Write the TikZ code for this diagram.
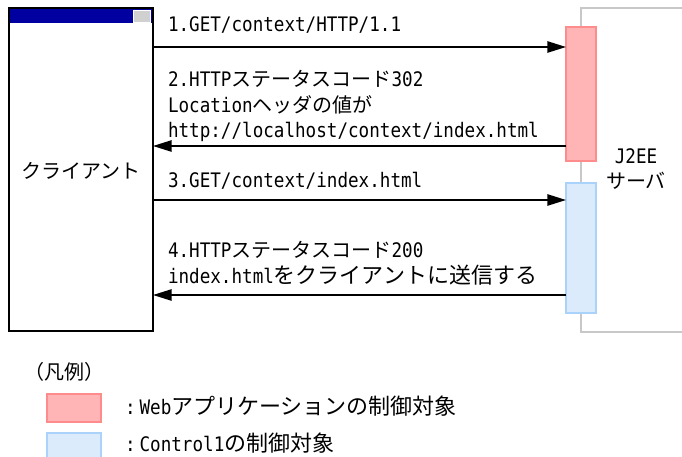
\documentclass[tikz,border=0pt]{standalone}
\usepackage{fontspec}
\setmainfont{Noto Sans CJK JP}
\newfontfamily\lt{DejaVu Sans Mono}[FakeStretch=0.88]
\usetikzlibrary{arrows.meta}
\definecolor{navybar}{RGB}{0,0,160}
\definecolor{btngray}{RGB}{208,208,208}
\definecolor{srvgray}{RGB}{200,200,200}
\definecolor{redfill}{RGB}{255,181,181}
\definecolor{reddraw}{RGB}{255,140,140}
\definecolor{bluefill}{RGB}{220,235,252}
\definecolor{bluedraw}{RGB}{170,210,250}
\tikzset{
  txt/.style={inner sep=0pt, outer sep=0pt, font=\fontsize{15pt}{19pt}\selectfont},
  lbl/.style={txt, anchor=base west},
  msg/.style={line width=1.2pt, -{Triangle[length=14pt,width=8.5pt]}},
  redbar/.style={draw=reddraw, fill=redfill, line width=1pt, inner sep=0pt, outer sep=0pt},
  bluebar/.style={draw=bluedraw, fill=bluefill, line width=1pt, inner sep=0pt, outer sep=0pt},
}
\newcommand{\bigjp}[1]{{\fontsize{16.5pt}{19pt}\selectfont #1}}
\begin{document}
\begin{tikzpicture}[x=0.75pt,y=-0.75pt]
\useasboundingbox (0,0) rectangle (682,457);
% server outline
\draw[srvgray, line width=1.1pt] (700,8) -- (581,8) -- (581,332) -- (700,332);
% client window
\node[draw, line width=1.1pt, minimum width=108pt, minimum height=242.25pt, inner sep=0pt, outer sep=0pt] (client) at (81,169.5) {};
\fill[navybar] (9,8) rectangle (153,23);
\node[fill=btngray, draw=white, line width=0.4pt, minimum width=13pt, minimum height=9pt, inner sep=0pt] (btn) at (141.5,16) {};
\draw[line width=1.1pt] (9,8) rectangle (153,331);
\node[txt] (clientlbl) at (81,171) {クライアント};
% server bars
\node[redbar, minimum width=22.5pt, minimum height=100.5pt] (red) at (581,94) {};
\node[bluebar, minimum width=22.5pt, minimum height=97.5pt] (blue) at (581,248) {};
\node[txt, align=center] (srv) at (636,169) {{\lt J2EE}\\サーバ};
% message rows
\coordinate (y1) at (0,47);
\coordinate (y2) at (0,146);
\coordinate (y3) at (0,200);
\coordinate (y4) at (0,295);
\draw[msg] (client.east |- y1) -- (red.west |- y1);
\draw[msg] (red.west |- y2) -- (client.east |- y2);
\draw[msg] (client.east |- y3) -- (blue.west |- y3);
\draw[msg] (blue.west |- y4) -- (client.east |- y4);
\node[lbl] (m1) at (168,31) {\lt 1.GET/context/HTTP/1.1};
\node[lbl] (m2a) at (168,86) {{\lt 2.HTTP}ステータスコード{\lt 302}};
\node[lbl] (m2b) at (168,112) {{\lt Location}ヘッダの値が};
\node[lbl] (m2c) at (168,137) {\lt http://localhost/context/index.html};
\node[lbl] (m3) at (168,187) {\lt 3.GET/context/index.html};
\node[lbl] (m4a) at (168,257) {{\lt 4.HTTP}ステータスコード{\lt 200}};
\node[lbl] (m4b) at (168,283) {{\lt index.html}\bigjp{をクライアントに送信する}};
% legend
\node[txt, anchor=west] (leg) at (24,372) {（凡例）};
\node[redbar, minimum width=40.5pt, minimum height=21pt] (lr) at (74,408) {};
\node[bluebar, minimum width=40.5pt, minimum height=21pt] (lb) at (74,447) {};
\node[lbl] (lrt) at (125,414) {{\lt :}\hspace{3pt}{\lt Web}\bigjp{アプリケーションの制御対象}};
\node[lbl] (lbt) at (125,451) {{\lt :}\hspace{3pt}{\lt Control1}\bigjp{の制御対象}};
\end{tikzpicture}
\end{document}
